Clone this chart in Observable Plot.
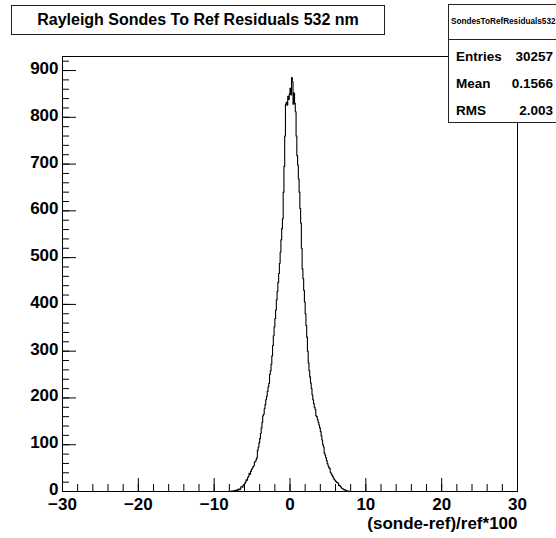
<!DOCTYPE html>
<html>
<head>
<meta charset="utf-8">
<script src="https://cdn.jsdelivr.net/npm/d3@7"></script>
<script src="https://cdn.jsdelivr.net/npm/@observablehq/plot@0.6"></script>
<style>
  html, body { margin: 0; padding: 0; background: #fff; }
  #wrap { position: relative; width: 556px; height: 538px; overflow: hidden; font-family: "Liberation Sans", Arial, Helvetica, sans-serif; }
  #title { position: absolute; left: 11px; top: 5px; width: 372px; height: 28px; border: 1px solid #222; background: #fff;
           font-weight: bold; font-size: 16px; line-height: 28px; text-align: center; white-space: nowrap; }
  #stats { position: absolute; left: 448px; top: 4px; width: 130px; height: 117px; border: 1px solid #222; background: #fff; }
  #stats .name { height: 34px; border-bottom: 1px solid #222; font-size: 8.2px; font-weight: bold; line-height: 34px; padding-left: 2px; white-space: nowrap; }
  #stats .row { position: relative; height: 27px; font-weight: bold; font-size: 13.5px; line-height: 27px; top: 3px; }
  #stats .row .k { position: absolute; left: 7px; }
  #stats .row .v { position: absolute; right: 26px; }
</style>
</head>
<body>
<div id="wrap"></div>
<script>
// ---- data ----
const titleText = "Rayleigh Sondes To Ref Residuals 532 nm";
const histName = "SondesToRefResiduals532";
const statLabels = ["Entries", "Mean", "RMS"];
const statValues = ["30257", "0.1566", "2.003"];
const xLabel = "(sonde-ref)/ref*100";
const xDomain = [-30, 30];
const yDomain = [0, 930];
const xMajorTicks = [-30, -20, -10, 0, 10, 20, 30];
const yMajorTicks = [0, 100, 200, 300, 400, 500, 600, 700, 800, 900];
const binLo = -8.0;
const binWidth = 0.1;
const counts = [
  0, 0, 1, 0, 1, 0, 2, 1, 2, 3,
  2, 4, 5, 4, 5, 10, 10, 9, 13, 15,
  17, 20, 25, 24, 30, 33, 39, 37, 43, 47,
  50, 53, 55, 63, 64, 68, 72, 88, 95, 104,
  113, 124, 136, 148, 162, 165, 177, 186, 196, 204,
  214, 224, 231, 250, 258, 272, 290, 312, 333, 352,
  370, 388, 410, 428, 447, 466, 488, 512, 538, 562,
  583, 640, 695, 760, 828, 832, 826, 845, 838, 850,
  862, 848, 885, 876, 828, 852, 830, 812, 760, 718,
  698, 668, 640, 605, 574, 520, 476, 455, 430, 405,
  380, 355, 330, 300, 275, 258, 245, 232, 220, 207,
  196, 188, 180, 176, 162, 160, 154, 148, 142, 136,
  128, 119, 110, 100, 95, 82, 78, 72, 66, 60,
  55, 51, 49, 41, 38, 35, 32, 29, 26, 24,
  22, 20, 19, 18, 13, 13, 11, 9, 7, 6,
  5, 4, 3, 3, 2, 1, 1, 1, 0, 0
];

// ---- build step outline ----
const pts = [{x: xDomain[0], y: 0}];
counts.forEach((c, i) => pts.push({x: binLo + i * binWidth, y: c}));
pts.push({x: binLo + counts.length * binWidth, y: 0});
pts.push({x: xDomain[1], y: 0});

const xMinor = d3.range(xDomain[0], xDomain[1] + 0.001, 2);
const yMinor = d3.range(0, yDomain[1], 20);

const font = {fontSize: 17, fontWeight: "bold", fontFamily: "Liberation Sans, Arial, Helvetica, sans-serif"};

const chart = Plot.plot({
  width: 556,
  height: 538,
  marginLeft: 62,
  marginRight: 39,
  marginTop: 56,
  marginBottom: 47,
  style: {background: "#fff", color: "#000", overflow: "visible"},
  x: {domain: xDomain, label: null},
  y: {domain: yDomain, label: null},
  marks: [
    Plot.line(pts, {x: "x", y: "y", curve: "step-after", stroke: "#000", strokeWidth: 1.1}),
    // tick labels
    Plot.axisY(yMajorTicks, {tickSize: 0, tickPadding: 4, dy: -2, ...font}),
    Plot.axisX(xMajorTicks, {tickSize: 0, tickPadding: 6, ...font}),
    // inward ticks
    Plot.axisY(yMajorTicks, {tickSize: -14, tickFormat: () => "", stroke: "#000"}),
    Plot.axisY(yMinor, {tickSize: -7, tickFormat: () => "", stroke: "#000"}),
    Plot.axisX(xMajorTicks, {tickSize: -13, tickFormat: () => "", stroke: "#000"}),
    Plot.axisX(xMinor, {tickSize: -7, tickFormat: () => "", stroke: "#000"}),
    Plot.frame({stroke: "#000", strokeWidth: 1}),
    Plot.text([xLabel], {frameAnchor: "bottom-right", textAnchor: "end", lineAnchor: "top", dy: 25, text: d => d, ...font})
  ]
});

const wrap = document.getElementById("wrap");
wrap.appendChild(chart);

const t = document.createElement("div");
t.id = "title";
t.textContent = titleText;
wrap.appendChild(t);

const s = document.createElement("div");
s.id = "stats";
const nm = document.createElement("div");
nm.className = "name";
nm.textContent = histName;
s.appendChild(nm);
statLabels.forEach((k, i) => {
  const r = document.createElement("div");
  r.className = "row";
  const a = document.createElement("span"); a.className = "k"; a.textContent = k;
  const b = document.createElement("span"); b.className = "v"; b.textContent = statValues[i];
  r.appendChild(a); r.appendChild(b);
  s.appendChild(r);
});
wrap.appendChild(s);
</script>
</body>
</html>
